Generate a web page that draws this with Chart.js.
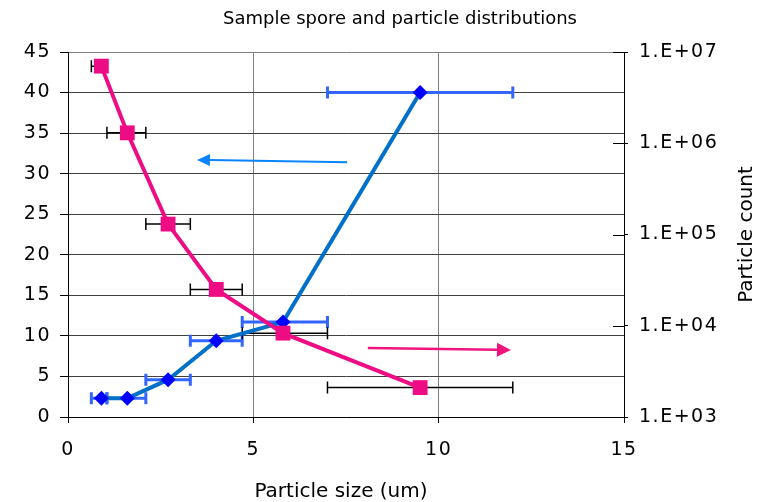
<!DOCTYPE html>
<html lang="en-US">
<head>
  <meta charset="utf-8">
  <title>Sample spore and particle distributions</title>
  <script src="https://cdn.jsdelivr.net/npm/chart.js@4.4.1/dist/chart.umd.min.js"></script>
  <style>
  body { margin: 0; background: #fff; }
  canvas { display: block; }
  </style>
</head>

<body>
  <canvas id="chart" width="763" height="502"></canvas>
  <script>
    // particle size bins (um): centre, lower and upper edge
    var sizes = [0.9, 1.6, 2.7, 4.0, 5.8, 9.5];
    var binLow = [0.63, 1.05, 2.1, 3.3, 4.7, 7.0];
    var binHigh = [1.05, 2.1, 3.3, 4.7, 7.0, 12.0];

    // spore distribution (left axis) and particle count (right axis, log)
    var sporeValues = [2.3, 2.3, 4.6, 9.4, 11.7, 40];
    var particleCounts = [7.0e6, 1.3e6, 1.3e5, 2.5e4, 8.3e3, 2.1e3];

    var xTicks = [0, 5, 10, 15];
    var leftTicks = [0, 5, 10, 15, 20, 25, 30, 35, 40, 45];
    var rightTicks = [1e3, 1e4, 1e5, 1e6, 1e7];

    // the two arrows, in left-axis data units: [tailX, tailY, tipX, tipY]
    var sporeArrow = [7.53, 31.4, 3.48, 31.7];
    var particleArrow = [8.09, 8.5, 11.95, 8.26];

    var pink = '#EE0C84';
    var blue = '#0070C8';

    function points(ys) {
      return sizes.map(function (x, i) { return { x: x, y: ys[i] }; });
    }

    function sci(v) {
      var e = Math.round(Math.log10(v));
      return '1.E+' + (e < 10 ? '0' : '') + e;
    }

    var extras = {
      id: 'extras',
      beforeDraw: function (chart) {
        // tick labels in the original are spaced out a little
        chart.ctx.letterSpacing = '1.5px';
      },
      beforeDatasetsDraw: function (chart) {
        var ctx = chart.ctx;
        var xs = chart.scales.x;
        var bars = [
          { scale: chart.scales.y, vals: sporeValues, color: '#3366FF', width: 3 },
          { scale: chart.scales.y2, vals: particleCounts, color: '#000', width: 1.5 }
        ];
        ctx.save();
        bars.forEach(function (b) {
          ctx.strokeStyle = b.color;
          ctx.lineWidth = b.width;
          b.vals.forEach(function (v, i) {
            var y = b.scale.getPixelForValue(v);
            var x1 = xs.getPixelForValue(binLow[i]);
            var x2 = xs.getPixelForValue(binHigh[i]);
            ctx.beginPath();
            ctx.moveTo(x1, y); ctx.lineTo(x2, y);
            ctx.moveTo(x1, y - 6); ctx.lineTo(x1, y + 6);
            ctx.moveTo(x2, y - 6); ctx.lineTo(x2, y + 6);
            ctx.stroke();
          });
        });
        ctx.restore();
      },
      afterDatasetsDraw: function (chart) {
        var ctx = chart.ctx;
        var xs = chart.scales.x, ys = chart.scales.y;
        function arrow(a, color, lw, hl, hw) {
          var x1 = xs.getPixelForValue(a[0]), y1 = ys.getPixelForValue(a[1]);
          var x2 = xs.getPixelForValue(a[2]), y2 = ys.getPixelForValue(a[3]);
          var ang = Math.atan2(y2 - y1, x2 - x1);
          var bx = x2 - hl * Math.cos(ang), by = y2 - hl * Math.sin(ang);
          ctx.save();
          ctx.strokeStyle = color; ctx.fillStyle = color; ctx.lineWidth = lw;
          ctx.beginPath(); ctx.moveTo(x1, y1); ctx.lineTo(bx, by); ctx.stroke();
          ctx.beginPath();
          ctx.moveTo(x2, y2);
          ctx.lineTo(bx + hw * Math.sin(ang), by - hw * Math.cos(ang));
          ctx.lineTo(bx - hw * Math.sin(ang), by + hw * Math.cos(ang));
          ctx.closePath(); ctx.fill();
          ctx.restore();
        }
        arrow(sporeArrow, '#0A84FF', 2, 13, 6);
        arrow(particleArrow, '#F0157E', 2.5, 14, 7);
      },
      afterDraw: function (chart) {
        var ctx = chart.ctx;
        var area = chart.chartArea;
        var y2 = chart.scales.y2;
        ctx.save();
        ctx.letterSpacing = '0px';
        // right axis ticks also cross into the plot
        ctx.strokeStyle = '#000';
        ctx.lineWidth = 1;
        rightTicks.forEach(function (v) {
          var y = Math.round(y2.getPixelForValue(v)) + 0.5;
          ctx.beginPath(); ctx.moveTo(area.right - 11, y); ctx.lineTo(area.right, y); ctx.stroke();
        });
        ctx.fillStyle = '#000';
        ctx.textAlign = 'center';
        ctx.textBaseline = 'alphabetic';
        ctx.font = '18px "DejaVu Sans"';
        ctx.fillText('Sample spore and particle distributions', 400, 24);
        ctx.font = '20px "DejaVu Sans"';
        ctx.fillText('Particle size (um)', 341, 497);
        ctx.translate(752, (area.top + area.bottom) / 2);
        ctx.rotate(-Math.PI / 2);
        ctx.fillText('Particle count', 0, 0);
        ctx.restore();
      }
    };

    var tickFont = { family: 'DejaVu Sans', size: 19 };

    var config = {
      type: 'line',
      data: {
        datasets: [{
          data: points(particleCounts),
          yAxisID: 'y2',
          order: 0,
          borderColor: pink,
          backgroundColor: pink,
          borderWidth: 4,
          pointStyle: 'rect',
          pointRadius: 10.5,
          pointBorderWidth: 0,
          tension: 0
        }, {
          data: points(sporeValues),
          yAxisID: 'y',
          order: 1,
          borderColor: blue,
          backgroundColor: '#0000FF',
          borderWidth: 4,
          pointStyle: 'rectRot',
          pointRadius: 7.5,
          pointBorderWidth: 0,
          tension: 0
        }]
      },
      options: {
        responsive: false,
        animation: false,
        layout: { padding: { top: 52, left: 0, right: 0, bottom: 0 } },
        plugins: {
          legend: { display: false },
          tooltip: { enabled: false },
          title: { display: false }
        },
        scales: {
          x: {
            type: 'linear',
            min: 0,
            max: 15,
            afterBuildTicks: function (s) { s.ticks = xTicks.map(function (v) { return { value: v }; }); },
            afterFit: function (s) { s.height = 85; },
            grid: { color: '#808080', tickColor: '#000', tickLength: 6 },
            border: { color: '#000', width: 1 },
            ticks: { font: tickFont, color: '#000', padding: 16, maxRotation: 0 }
          },
          y: {
            position: 'left',
            min: 0,
            max: 45,
            afterBuildTicks: function (s) { s.ticks = leftTicks.map(function (v) { return { value: v }; }); },
            afterFit: function (s) { s.width = 68; },
            grid: {
              color: function (c) { return c.tick && c.tick.value === 45 ? '#808080' : '#404040'; },
              tickColor: '#000',
              tickLength: 8
            },
            border: { color: '#000', width: 1 },
            ticks: { font: tickFont, color: '#000', padding: 9 }
          },
          y2: {
            type: 'logarithmic',
            position: 'right',
            min: 1e3,
            max: 1e7,
            afterBuildTicks: function (s) { s.ticks = rightTicks.map(function (v) { return { value: v }; }); },
            afterFit: function (s) { s.width = 139; },
            grid: { drawOnChartArea: false, tickColor: '#000', tickLength: 4 },
            border: { color: '#000', width: 1 },
            ticks: { font: tickFont, color: '#000', padding: 11, callback: sci }
          }
        }
      },
      plugins: [extras]
    };

    window.onload = function () {
      var ctx = document.getElementById('chart').getContext('2d');
      window.myChart = new Chart(ctx, config);
    };
  </script>
</body>
</html>
